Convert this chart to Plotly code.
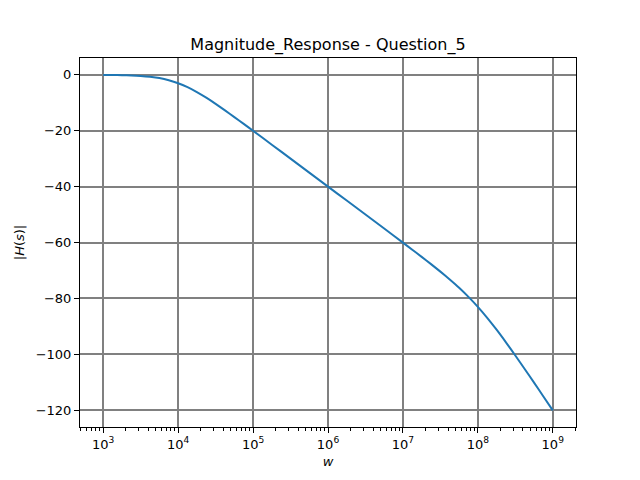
import plotly.graph_objects as go

# ---------------------------------------------------------------------------
# Data (log10 of w, magnitude in dB)
# ---------------------------------------------------------------------------
w_log = [3.0, 3.125, 3.25, 3.375, 3.5, 3.625, 3.75, 3.875, 4.0, 4.125, 4.25,
         4.375, 4.5, 4.625, 4.75, 4.875, 5.0, 5.25, 5.5, 5.75, 6.0, 6.25, 6.5,
         6.75, 7.0, 7.125, 7.25, 7.375, 7.5, 7.625, 7.75, 7.875, 8.0, 8.125,
         8.25, 8.375, 8.5, 8.625, 8.75, 8.875, 9.0]
mag_db = [-0.04, -0.08, -0.14, -0.24, -0.41, -0.71, -1.17, -1.94, -3.01, -4.44,
          -6.19, -8.21, -10.41, -12.74, -15.13, -17.58, -20.04, -25.01, -30.0,
          -35.0, -40.0, -45.0, -50.0, -55.0, -60.04, -62.58, -65.14, -67.74,
          -70.41, -73.21, -76.17, -79.44, -83.01, -86.94, -91.19, -95.71,
          -100.41, -105.24, -110.13, -115.08, -120.04]

x_ticks = [1e3, 1e4, 1e5, 1e6, 1e7, 1e8, 1e9]
x_tick_text = ["10<sup>3</sup>", "10<sup>4</sup>", "10<sup>5</sup>", "10<sup>6</sup>",
               "10<sup>7</sup>", "10<sup>8</sup>", "10<sup>9</sup>"]
y_ticks = [0, -20, -40, -60, -80, -100, -120]
y_tick_text = ["0", "\u221220", "\u221240", "\u221260", "\u221280", "\u2212100", "\u2212120"]

w = [10 ** v for v in w_log]

fig = go.Figure()
fig.add_trace(go.Scatter(
    x=w, y=mag_db, mode="lines",
    line=dict(color="#1f77b4", width=2, shape="spline", smoothing=0.5),
    showlegend=False,
))

axis_style = dict(
    showline=True, mirror=True, linecolor="black", linewidth=1,
    ticks="outside", ticklen=5, tickcolor="black",
    showgrid=True, gridcolor="#808080", gridwidth=2,
    zeroline=False,
    tickfont=dict(size=13, color="black"),
)

fig.update_layout(
    width=640, height=480,
    margin=dict(l=80, r=64, t=58, b=53),
    paper_bgcolor="white", plot_bgcolor="white",
    font=dict(family="DejaVu Sans", color="black"),
    title=dict(text="Magnitude_Response - Question_5", x=0.5125, xanchor="center",
               y=1 - 44 / 480, yanchor="middle", font=dict(size=16)),
    xaxis=dict(type="log", range=[2.69, 9.31], tickvals=x_ticks, ticktext=x_tick_text,
               title=dict(text="<i>w</i>", font=dict(size=13), standoff=6),
               minor=dict(ticks="outside", ticklen=3, tickcolor="black", dtick="D1",
                          showgrid=False),
               **axis_style),
    yaxis=dict(range=[-126.0, 6.0], tickvals=y_ticks, ticktext=y_tick_text,
               title=dict(text="|<i>H</i>(<i>s</i>)|", font=dict(size=13), standoff=8),
               **axis_style),
)

# page body has a default 8px margin; drop it so the figure sits at the corner
fig.write_html("out.html", config={"displayModeBar": False},
               post_script="document.body.style.margin='0';")
